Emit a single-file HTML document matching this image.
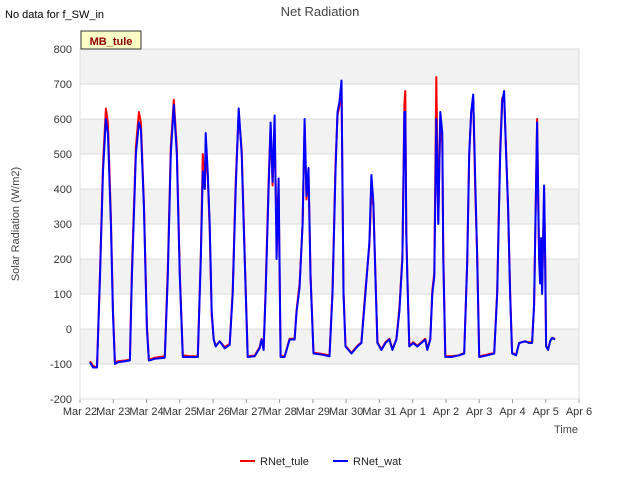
<!DOCTYPE html>
<html><head><meta charset="utf-8"><style>
body{margin:0;background:#fff;font-family:"Liberation Sans","DejaVu Sans",sans-serif;}
svg text{font-family:"Liberation Sans","DejaVu Sans",sans-serif;}
</style></head><body>
<svg id="chart" width="640" height="480" viewBox="0 0 640 480">
<text x="5" y="18" font-size="11" fill="#000">No data for f_SW_in</text>
<text x="320" y="16" font-size="13" fill="#444" text-anchor="middle">Net Radiation</text>
<g id="plot"></g>
<rect x="81" y="31" width="60" height="18" fill="#ffffc8" stroke="#333" stroke-width="1"/>
<text x="111" y="45" font-size="11" font-weight="bold" fill="#8b0000" text-anchor="middle">MB_tule</text>
<text transform="translate(19,224) rotate(-90)" font-size="11" fill="#444" text-anchor="middle">Solar Radiation (W/m2)</text>
<text x="578" y="433" font-size="11" fill="#444" text-anchor="end">Time</text>
<g>
<line x1="240" y1="461" x2="255" y2="461" stroke="#f00" stroke-width="2"/>
<text x="260" y="465" font-size="11" fill="#222">RNet_tule</text>
<line x1="333" y1="461" x2="348" y2="461" stroke="#00f" stroke-width="2"/>
<text x="353" y="465" font-size="11" fill="#222">RNet_wat</text>
</g>
</svg>
<script>
const xTickLabels=["Mar 22","Mar 23","Mar 24","Mar 25","Mar 26","Mar 27","Mar 28","Mar 29","Mar 30","Mar 31","Apr 1","Apr 2","Apr 3","Apr 4","Apr 5","Apr 6"];
const yTicks=[-200,-100,0,100,200,300,400,500,600,700,800];
const times=[0.30,0.39,0.51,0.60,0.69,0.78,0.84,0.93,0.99,1.05,1.14,1.35,1.50,1.56,1.68,1.77,1.83,1.92,2.01,2.07,2.25,2.55,2.64,2.73,2.82,2.91,3.00,3.09,3.30,3.54,3.63,3.69,3.75,3.78,3.84,3.90,3.96,4.02,4.08,4.20,4.35,4.50,4.59,4.68,4.77,4.86,4.95,5.04,5.25,5.40,5.46,5.52,5.58,5.67,5.73,5.79,5.85,5.91,5.97,6.03,6.15,6.30,6.45,6.51,6.60,6.69,6.75,6.81,6.87,6.93,7.02,7.20,7.50,7.59,7.68,7.74,7.80,7.86,7.92,7.98,8.16,8.34,8.46,8.58,8.70,8.76,8.82,8.88,8.94,9.06,9.18,9.30,9.39,9.51,9.60,9.69,9.75,9.78,9.81,9.84,9.90,10.02,10.14,10.26,10.38,10.44,10.53,10.59,10.65,10.71,10.77,10.83,10.89,10.92,10.98,11.16,11.40,11.55,11.64,11.70,11.76,11.82,11.88,11.94,12.00,12.24,12.45,12.54,12.63,12.69,12.75,12.81,12.87,12.93,12.99,13.11,13.20,13.38,13.50,13.59,13.65,13.74,13.80,13.83,13.86,13.89,13.95,13.98,14.01,14.07,14.13,14.19,14.28];
const rnetWat=[-95,-110,-110,150,450,600,560,300,50,-100,-95,-92,-90,150,500,590,570,350,0,-90,-85,-82,150,500,640,500,150,-80,-80,-80,200,450,400,560,450,300,50,-30,-50,-35,-55,-45,100,400,630,500,200,-80,-78,-55,-30,-60,100,400,590,420,610,200,430,-80,-80,-30,-30,50,120,300,600,380,460,150,-70,-72,-78,100,450,620,650,710,100,-50,-70,-50,-40,100,250,440,360,150,-40,-60,-40,-30,-60,-30,50,200,620,620,270,150,-50,-40,-50,-40,-30,-60,-30,100,150,600,300,620,560,200,-80,-80,-75,-70,190,500,620,670,430,200,-80,-75,-70,100,500,650,680,500,350,100,-70,-75,-40,-35,-40,-40,70,590,200,130,260,100,410,220,-50,-60,-35,-25,-30];
const rnetTule=[-92,-105,-110,160,470,630,590,320,60,-95,-92,-90,-88,170,520,620,590,360,10,-88,-82,-78,170,520,655,520,160,-75,-78,-78,210,500,400,500,440,280,40,-30,-48,-35,-52,-42,110,420,620,510,210,-78,-76,-52,-28,-58,110,420,580,410,570,270,400,-78,-78,-28,-28,55,130,300,580,370,440,160,-68,-70,-75,110,470,610,640,700,110,-48,-68,-48,-38,110,240,400,350,160,-38,-58,-38,-28,-58,-28,60,210,640,680,280,160,-48,-38,-48,-38,-28,-58,-28,110,160,720,310,600,530,210,-78,-78,-75,-68,190,500,620,660,400,210,-78,-73,-68,110,520,660,660,510,340,110,-68,-73,-40,-35,-38,-38,70,600,200,170,240,110,390,210,-48,-58,-35,-25,-28];

const NS="http://www.w3.org/2000/svg";
const X0=80,X1=579,Y0=399,Y1=49;
function xScale(t){return X0+(t/15)*(X1-X0);}
function yScale(v){return Y0-(v+200)/1000*(Y0-Y1);}
const plot=document.getElementById('plot');
function mk(tag,attrs){const e=document.createElementNS(NS,tag);for(const k in attrs)e.setAttribute(k,attrs[k]);return e;}
for(let i=0;i<yTicks.length-1;i++){
  if(i%2===1){const b=mk('rect',{x:X0,y:yScale(yTicks[i+1]),width:X1-X0,height:yScale(yTicks[i])-yScale(yTicks[i+1]),fill:'#f2f2f2'});
  
  
  plot.appendChild(b);}
}
yTicks.forEach(v=>{
  const y=yScale(v);
  const l=mk('line',{x1:X0,x2:X1,y1:y,y2:y,stroke:'#dcdcdc','stroke-width':1});
  
  
  plot.appendChild(l);
  const t=mk('text',{x:X0-8,y:y+4,'font-size':11,fill:'#333','text-anchor':'end'});
  t.textContent=v;
  
  
  plot.appendChild(t);
});
xTickLabels.forEach((lab,i)=>{
  const x=xScale(i);
  const tk=mk('line',{x1:x,x2:x,y1:Y0,y2:Y0+4,stroke:'#999'});
  
  
  plot.appendChild(tk);
  const t=mk('text',{x:x,y:Y0+16,'font-size':11,fill:'#333','text-anchor':'middle'});
  t.textContent=lab;
  
  
  plot.appendChild(t);
});
const fr=mk('rect',{x:X0,y:Y1,width:X1-X0,height:Y0-Y1,fill:'none',stroke:'#dcdcdc'});


plot.appendChild(fr);
function series(vals,color,name){
  const d=vals.map((v,i)=>(i?'L':'M')+xScale(times[i]).toFixed(1)+','+yScale(v).toFixed(1)).join('');
  const p=mk('path',{d:d,fill:'none',stroke:color,'stroke-width':2,'stroke-linejoin':'round'});
  
  
  plot.appendChild(p);
}
series(rnetTule,'#ff0000','series-rnet-tule');
series(rnetWat,'#0000ff','series-rnet-wat');
</script>
</body></html>
